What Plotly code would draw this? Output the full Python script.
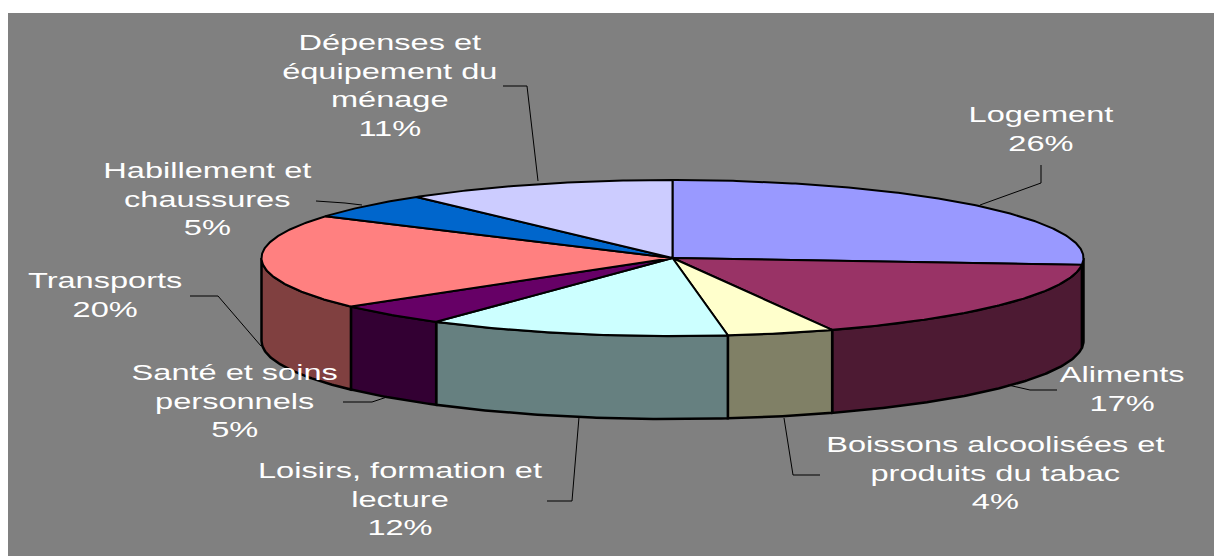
import numpy as np
import plotly.graph_objects as go

# Data
categories = ["Logement", "Aliments", "Boissons alcoolisées et<br>produits du tabac",
              "Loisirs, formation et<br>lecture", "Santé et soins<br>personnels", "Transports",
              "Habillement et<br>chaussures", "Dépenses et<br>équipement du<br>ménage"]
values = [26.4, 17.25, 4.2, 11.9, 4.55, 19.7, 5.3, 10.7]
top_colors = ["#9999FF", "#993366", "#FFFFCC", "#CCFFFF", "#660066", "#FF8080", "#0066CC", "#CCCCFF"]
side_colors = ["#4D4D80", "#4D1A33", "#808066", "#668080", "#330033", "#804040", "#003366", "#666680"]

# Layout of the tilted pie (pixels, since the axes span the page)
W, H = 1214, 556
CX, CY, RX, RY, DEPTH = 672.5, 258, 411, 78, 83
LABEL_POS = [(1041, 129), (1122, 389), (995, 473), (400, 499), (234, 401), (105, 295), (207, 199), (390, 85)]
LEADERS = [
    [(1041, 165), (1041, 183), (980, 205)],
    [(1057, 390), (1030, 390), (1008, 385)],
    [(820, 475), (793, 475), (784, 418)],
    [(547, 501), (572, 501), (579, 417)],
    [(343, 402), (372, 402), (387, 397)],
    [(190, 296), (218, 296), (261, 346)],
    [(316, 201), (345, 203), (362, 205)],
    [(503, 86), (527, 86), (538, 181)],
]

fig = go.Figure()


def arc(a0, a1, dy=0.0):
    t = np.radians(np.linspace(a0, a1, max(2, int(abs(a1 - a0) * 2) + 2)))
    return CX + RX * np.sin(t), CY + dy + RY * -np.cos(t)


def add_poly(x, y, fill, width=2.5):
    fig.add_trace(go.Scatter(x=x, y=y, mode="lines", fill="toself", fillcolor=fill,
                             line=dict(color="black", width=width), hoverinfo="skip", showlegend=False))


edges = np.concatenate([[0], np.cumsum(values)]) / np.sum(values) * 360

# Side walls: only the front half of the rim (90 to 270 degrees clockwise from the top)
for i in range(len(values)):
    a0, a1 = max(edges[i], 90), min(edges[i + 1], 270)
    if a1 <= a0:
        continue
    tx, ty = arc(a0, a1)
    bx, by = arc(a1, a0, DEPTH)
    add_poly(np.r_[tx, bx, tx[0]], np.r_[ty, by, ty[0]], side_colors[i])

# Top faces
for i in range(len(values)):
    tx, ty = arc(edges[i], edges[i + 1])
    add_poly(np.r_[CX, tx, CX], np.r_[CY, ty, CY], top_colors[i], 2)

# Leader lines
for pts in LEADERS:
    fig.add_trace(go.Scatter(x=[p[0] for p in pts], y=[p[1] for p in pts], mode="lines",
                             line=dict(color="black", width=1), hoverinfo="skip", showlegend=False))

# Labels
for name, v, (lx, ly) in zip(categories, values, LABEL_POS):
    fig.add_annotation(x=lx, y=ly, text=f"{name}<br>{round(v)}%", showarrow=False,
                       xanchor="center", yanchor="middle", align="center",
                       font=dict(family="Liberation Sans, Arial, sans-serif", size=22, color="white"))

fig.update_layout(
    width=W, height=H, margin=dict(l=0, r=0, t=0, b=0), paper_bgcolor="white", plot_bgcolor="white",
    xaxis=dict(range=[0, W], visible=False, fixedrange=True),
    yaxis=dict(range=[H, 0], visible=False, fixedrange=True),
    shapes=[dict(type="rect", layer="below", x0=8, x1=W, y0=13, y1=H, fillcolor="#808080", line_width=0)],
)

# Drop the page margin; the reference's lettering is stretched horizontally
post = """
document.body.style.margin='0';
document.documentElement.style.overflow='hidden';
document.querySelectorAll('.annotation-text-g text').forEach(function(t){
  var b=t.getBBox(), c=b.x+b.width/2;
  t.setAttribute('transform','translate('+c+',0) scale(1.48,1) translate('+(-c)+',0)');
});
"""
fig.write_html("out.html", post_script=post, config={"displayModeBar": False})
